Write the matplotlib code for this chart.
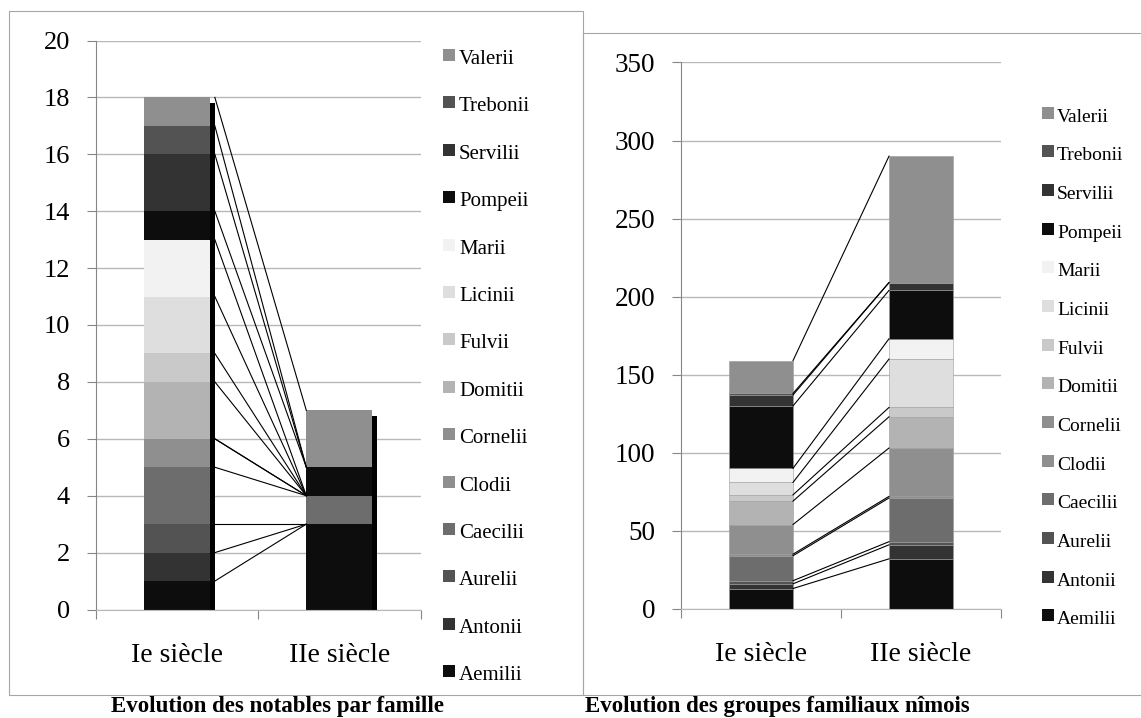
import numpy as np
import matplotlib
matplotlib.use("Agg")
import matplotlib.pyplot as plt
from matplotlib.patches import Rectangle

W, H = 1141, 718
SERIF = ["Liberation Serif", "DejaVu Serif"]
plt.rcParams["font.family"] = SERIF

familles = ["Aemilii", "Antonii", "Aurelii", "Caecilii", "Clodii", "Cornelii", "Domitii",
            "Fulvii", "Licinii", "Marii", "Pompeii", "Servilii", "Trebonii", "Valerii"]
gris = ["#0d0d0d", "#333333", "#535353", "#6d6d6d", "#8f8f8f", "#8f8f8f", "#b3b3b3",
        "#c9c9c9", "#dedede", "#f2f2f2", "#0d0d0d", "#333333", "#535353", "#8f8f8f"]
siecles = ["Ie siècle", "IIe siècle"]

# notables par famille
notables_I = [1, 1, 1, 2, 1, 0, 2, 1, 2, 2, 1, 2, 1, 1]
notables_II = [3, 0, 0, 1, 0, 0, 0, 0, 0, 0, 1, 0, 0, 2]
# groupes familiaux nîmois
groupes_I = [13, 3, 2, 16, 1, 19, 15, 4, 8, 9, 40, 7, 1, 21]
groupes_II = [32, 9, 2, 28, 1, 31, 20, 6, 31, 13, 31, 5, 0, 81]

GRID = "#b8b8b8"
AXC = "#868686"


def fx(x):
    return x / W


def fy(y):
    return 1 - y / H


def chart(ax, v1, v2, ymax, ystep, width, shadow=None, tick_fs=19, edge=None):
    ax.set_xlim(-0.5, 1.5)
    ax.set_ylim(0, ymax)
    ax.set_axisbelow(True)
    for s in ["top", "right"]:
        ax.spines[s].set_visible(False)
    ax.spines["left"].set_color(AXC)
    ax.spines["bottom"].set_color(GRID)
    ax.yaxis.grid(True, color=GRID, lw=1.0)
    ax.set_yticks(np.arange(0, ymax + 1, ystep))
    ax.tick_params(axis="y", length=6.5, color=AXC, pad=12, labelsize=tick_fs)
    ax.set_xticks([-0.5, 0.5, 1.5])
    ax.set_xticklabels([])
    ax.tick_params(axis="x", which="major", length=6.5, color=AXC)
    ax.set_xticks([0, 1], minor=True)
    ax.set_xticklabels(siecles, minor=True)
    ax.tick_params(axis="x", which="minor", length=0, pad=24, labelsize=20)

    c1 = np.cumsum(v1)
    c2 = np.cumsum(v2)
    if shadow is not None:
        dx, dy = shadow
        ax.bar([0 + dx, 1 + dx], [c1[-1], c2[-1]], bottom=-dy, width=width,
               color="black", zorder=1.5)
    for i in range(len(familles)):
        ax.bar([0, 1], [v1[i], v2[i]], bottom=[c1[i] - v1[i], c2[i] - v2[i]],
               width=width, color=gris[i], zorder=2,
               edgecolor=edge if edge else gris[i], lw=0.4 if edge else 0)
    xa = width / 2 + (shadow[0] if shadow else 0)
    xb = 1 - width / 2
    for i in range(len(familles)):
        ax.plot([xa, xb], [c1[i], c2[i]], color="black", lw=0.8, zorder=3)


def legende(fig, x_sq, x_txt, base0, step, sq, fs):
    for k, nom in enumerate(familles[::-1]):
        i = len(familles) - 1 - k
        b = base0 + k * step
        fig.add_artist(Rectangle((fx(x_sq), fy(b - 3)), sq / W, sq / H,
                                 transform=fig.transFigure, color=gris[i], lw=0))
        fig.text(fx(x_txt), fy(b), nom, fontsize=fs, va="baseline", ha="left")


fig = plt.figure(figsize=(W / 100, H / 100), dpi=100)

# cadres
fig.add_artist(Rectangle((fx(8.5), fy(695)), (582.5 - 8.5) / W, (695 - 11) / H,
                         transform=fig.transFigure, fill=False, ec="#a6a6a6", lw=0.8))
fig.add_artist(Rectangle((fx(582.5), fy(695)), (1150 - 582.5) / W, (695 - 33) / H,
                         transform=fig.transFigure, fill=False, ec="#a6a6a6", lw=0.8))

ax1 = fig.add_axes([fx(95.7), fy(609.5), (420.6 - 95.7) / W, (609.5 - 40.5) / H])
chart(ax1, notables_I, notables_II, 20, 2, 0.407, shadow=(0.03, 0.19), tick_fs=19)

ax2 = fig.add_axes([fx(681), fy(608.8), (1001 - 681) / W, (608.8 - 62.5) / H])
chart(ax2, groupes_I, groupes_II, 350, 50, 0.40, tick_fs=19.5, edge="#9a9a9a")

legende(fig, 443, 459, 64, 47.4, 12, 15)
legende(fig, 1042, 1057, 121.7, 38.66, 12, 14)

fig.text(fx(277.5), fy(712), "Evolution des notables par famille", ha="center",
         va="baseline", fontsize=16.5, fontweight="bold")
fig.text(fx(777), fy(712), "Evolution des groupes familiaux nîmois", ha="center",
         va="baseline", fontsize=16.5, fontweight="bold")

fig.savefig("out.png", dpi=100)
